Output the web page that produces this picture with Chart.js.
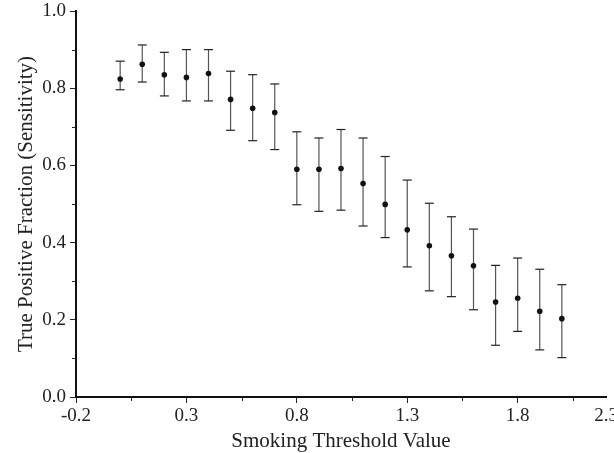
<!DOCTYPE html>
<html>
<head>
<meta charset="utf-8">
<script src="https://cdn.jsdelivr.net/npm/chart.js@4"></script>
<style>
  html, body { margin: 0; padding: 0; background: #fff; }
  #wrap { width: 614px; height: 453px; }
</style>
</head>
<body>
<div id="wrap"><canvas id="chart"></canvas></div>
<script>
// smoking threshold values and sensitivity with error bars
const thresholds = [0, 0.1, 0.2, 0.3, 0.4, 0.5, 0.6, 0.7, 0.8, 0.9, 1.0, 1.1, 1.2, 1.3, 1.4, 1.5, 1.6, 1.7, 1.8, 1.9, 2.0];
const sensitivity = [0.824, 0.862, 0.835, 0.828, 0.838, 0.771, 0.748, 0.737, 0.590, 0.590, 0.592, 0.553, 0.499, 0.433, 0.392, 0.366, 0.340, 0.246, 0.256, 0.222, 0.203];
const upperBound = [0.870, 0.912, 0.893, 0.900, 0.900, 0.844, 0.835, 0.811, 0.687, 0.671, 0.693, 0.671, 0.623, 0.562, 0.502, 0.467, 0.435, 0.341, 0.360, 0.331, 0.291];
const lowerBound = [0.796, 0.816, 0.780, 0.767, 0.767, 0.691, 0.664, 0.641, 0.498, 0.481, 0.484, 0.443, 0.413, 0.337, 0.275, 0.260, 0.226, 0.134, 0.170, 0.122, 0.102];

const xTickValues = [-0.2, 0.3, 0.8, 1.3, 1.8, 2.2];
const xTickLabels = ["-0.2", "0.3", "0.8", "1.3", "1.8", "2.3"];
const xMinorTicks = [0.05, 0.55, 1.05, 1.55, 2.05];
const yMinorTicks = [0.1, 0.3, 0.5, 0.7, 0.9];

const serif = "'Liberation Serif', 'Times New Roman', serif";

// one line segment per error bar, separated by gaps
const errorData = [];
thresholds.forEach((x, i) => {
  errorData.push({ x: x, y: lowerBound[i] });
  errorData.push({ x: x, y: upperBound[i] });
  errorData.push({ x: x, y: null });
});

const pointData = thresholds.map((x, i) => ({ x: x, y: sensitivity[i] }));

// short minor ticks on both axes
const minorTicks = {
  id: "minorTicks",
  afterDraw(chart) {
    const ctx = chart.ctx;
    const xs = chart.scales.x;
    const ys = chart.scales.y;
    ctx.save();
    ctx.strokeStyle = "#222";
    ctx.lineWidth = 1;
    ctx.beginPath();
    xMinorTicks.forEach((v) => {
      const px = Math.round(xs.getPixelForValue(v)) + 0.5;
      ctx.moveTo(px, ys.bottom);
      ctx.lineTo(px, ys.bottom + 4);
    });
    yMinorTicks.forEach((v) => {
      const py = Math.round(ys.getPixelForValue(v)) + 0.5;
      ctx.moveTo(xs.left - 4, py);
      ctx.lineTo(xs.left, py);
    });
    ctx.stroke();
    ctx.restore();
  }
};

new Chart(document.getElementById("chart"), {
  type: "scatter",
  data: {
    datasets: [
      {
        type: "scatter",
        data: pointData,
        backgroundColor: "#111",
        borderColor: "#111",
        pointRadius: 2.8,
        borderWidth: 0
      },
      {
        type: "line",
        data: errorData,
        borderColor: "#555",
        borderWidth: 1.2,
        spanGaps: false,
        fill: false,
        pointStyle: "line",
        pointRadius: 4.5,
        pointBorderColor: "#222",
        pointBorderWidth: 1.2
      }
    ]
  },
  plugins: [minorTicks],
  options: {
    responsive: true,
    maintainAspectRatio: false,
    animation: false,
    layout: { padding: { top: 11, right: 8, bottom: 0, left: 0 } },
    plugins: {
      legend: { display: false },
      tooltip: { enabled: false }
    },
    scales: {
      x: {
        type: "linear",
        min: -0.2,
        max: 2.2,
        afterBuildTicks: (scale) => {
          scale.ticks = xTickValues.map((v) => ({ value: v }));
        },
        afterFit: (scale) => {
          scale.height = 56;
          scale.paddingLeft = 0;
          scale.paddingRight = 0;
        },
        ticks: {
          autoSkip: false,
          maxRotation: 0,
          padding: 2,
          color: "#222",
          font: { family: serif, size: 19 },
          callback: (value, index) => xTickLabels[index]
        },
        grid: {
          drawOnChartArea: false,
          drawTicks: true,
          tickLength: 6,
          tickColor: (ctx) => (ctx.index === xTickValues.length - 1 ? "rgba(0,0,0,0)" : "#222"),
          tickWidth: 1
        },
        border: { display: true, color: "#111", width: 2 },
        title: {
          display: true,
          text: "Smoking Threshold Value",
          color: "#222",
          font: { family: serif, size: 21, lineHeight: 1.1 },
          padding: { top: 0, bottom: 0 }
        }
      },
      y: {
        type: "linear",
        min: 0,
        max: 1,
        afterFit: (scale) => {
          scale.width = 76;
          scale.paddingTop = 0;
          scale.paddingBottom = 0;
        },
        ticks: {
          stepSize: 0.2,
          padding: 4,
          color: "#222",
          font: { family: serif, size: 19 },
          callback: (value) => value.toFixed(1)
        },
        grid: {
          drawOnChartArea: false,
          drawTicks: true,
          tickLength: 6,
          tickColor: "#222",
          tickWidth: 1
        },
        border: { display: true, color: "#111", width: 2 },
        title: {
          display: true,
          text: "True Positive Fraction (Sensitivity)",
          color: "#222",
          font: { family: serif, size: 21, lineHeight: 1.1 },
          padding: { top: 15, bottom: 0 }
        }
      }
    }
  }
});
</script>
</body>
</html>
